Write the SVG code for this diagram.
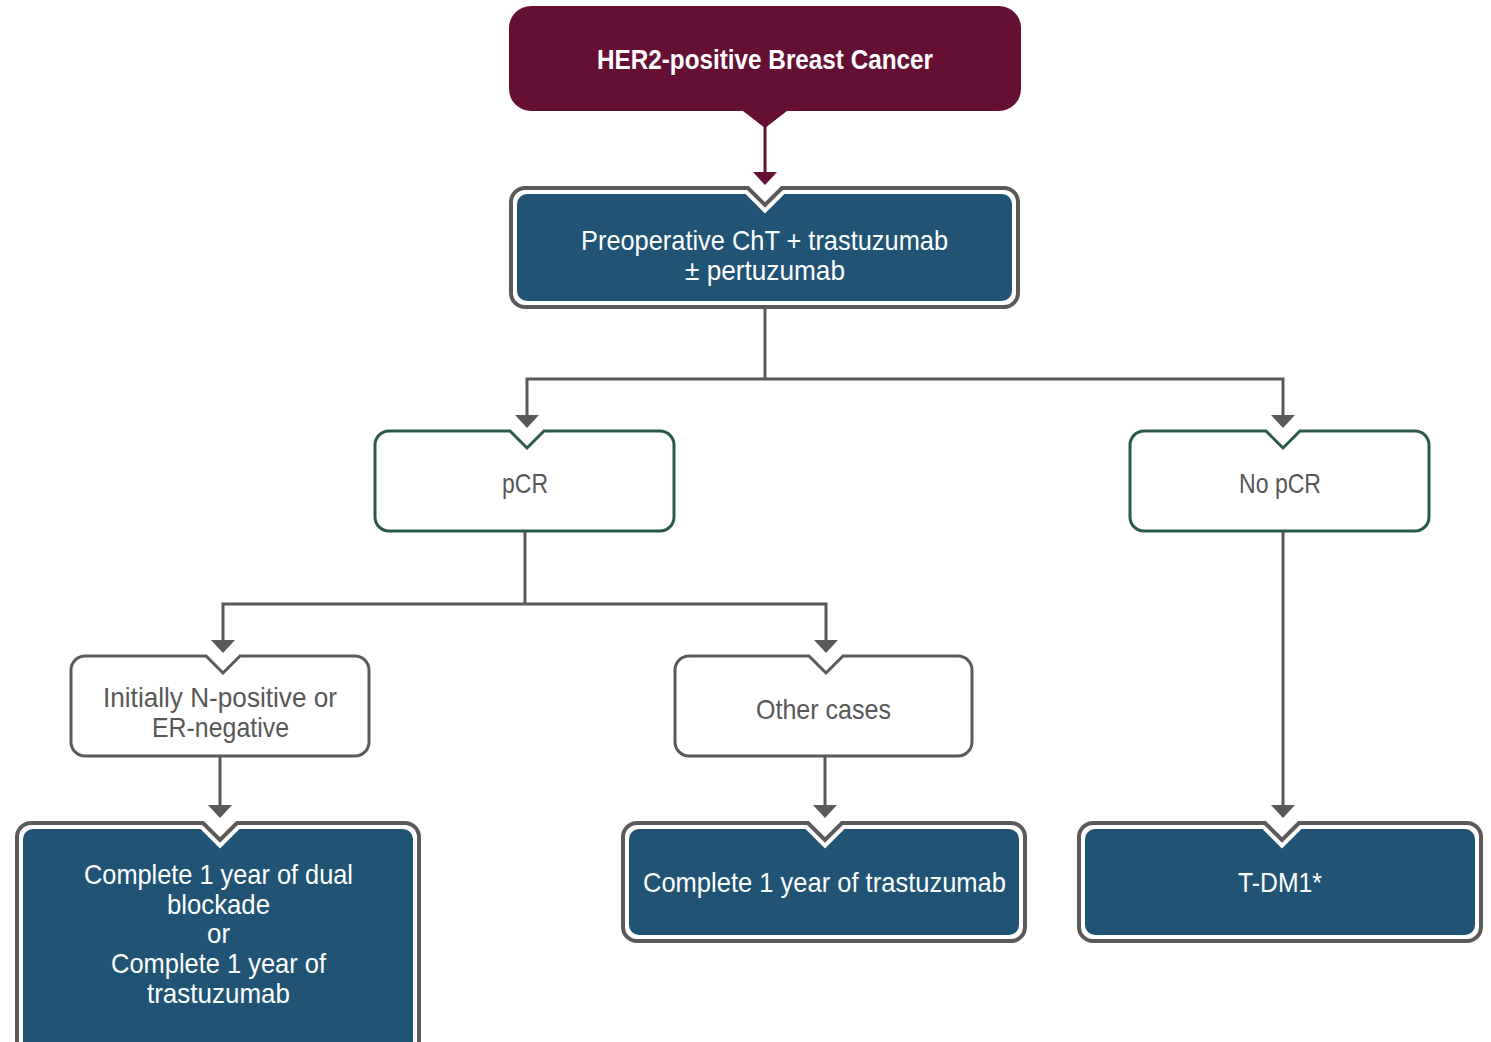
<svg xmlns="http://www.w3.org/2000/svg" width="1491" height="1042" viewBox="0 0 1491 1042">
<style>
.t{font-family:"Liberation Sans",Arial,sans-serif;font-size:28px;text-anchor:middle}
.w{fill:#ffffff}
.g{fill:#575757}
.b{font-weight:bold}
.outer{fill:#ffffff;stroke:#5a5a5a;stroke-width:4}
.inner{fill:#215374}
.wbox{fill:#ffffff;stroke-width:3}
.green{stroke:#2b5a44}
.gray{stroke:#5a5a5a}
.conn{fill:none;stroke:#595959;stroke-width:3}
.ah{fill:#595959}
</style>
<rect width="1491" height="1042" fill="#ffffff"/>
<g id="connectors">
<path d="M765,111 V174" fill="none" stroke="#650f35" stroke-width="3"/>
<path d="M743,111 L765,128 L787,111 Z" fill="#650f35"/>
<path d="M753,172 H777 L765,185 Z" fill="#650f35"/>
<path class="conn" d="M765,309 V379 H1283 V417 M765,379 H527 V417"/>
<path class="ah" d="M515,415 H539 L527,428 Z"/>
<path class="ah" d="M1271,415 H1295 L1283,428 Z"/>
<path class="conn" d="M525,532 V604 H826 V642 M525,604 H223 V642"/>
<path class="ah" d="M211,640 H235 L223,653 Z"/>
<path class="ah" d="M814,640 H838 L826,653 Z"/>
<path class="conn" d="M1283,532 V807"/>
<path class="ah" d="M1271,805 H1295 L1283,818 Z"/>
<path class="conn" d="M220,757 V807"/>
<path class="ah" d="M208,805 H232 L220,818 Z"/>
<path class="conn" d="M825,757 V807"/>
<path class="ah" d="M813,805 H837 L825,818 Z"/>
</g>
<g id="her2">
<rect x="509" y="6" width="512" height="105" rx="22" fill="#650f35"/>
<text class="t w b" x="765" y="69" textLength="336" lengthAdjust="spacingAndGlyphs">HER2-positive Breast Cancer</text>
</g>
<g id="preop">
<path class="outer" d="M525,188 H748 L765,205 L782,188 H1004 A14,14 0 0 1 1018,202 V293 A14,14 0 0 1 1004,307 H525 A14,14 0 0 1 511,293 V202 A14,14 0 0 1 525,188 Z"/>
<path class="inner" d="M527,194 H745.5 L765,213.5 L784.5,194 H1002 A10,10 0 0 1 1012,204 V291 A10,10 0 0 1 1002,301 H527 A10,10 0 0 1 517,291 V204 A10,10 0 0 1 527,194 Z"/>
<text class="t w" x="764.5" y="250" textLength="367" lengthAdjust="spacingAndGlyphs">Preoperative ChT + trastuzumab</text>
<text class="t w" x="765" y="280" textLength="160" lengthAdjust="spacingAndGlyphs">± pertuzumab</text>
</g>
<g id="pcr">
<path class="wbox green" d="M389,431 H510 L527,448 L544,431 H660 A14,14 0 0 1 674,445 V517 A14,14 0 0 1 660,531 H389 A14,14 0 0 1 375,517 V445 A14,14 0 0 1 389,431 Z"/>
<text class="t g" x="525" y="493" textLength="46" lengthAdjust="spacingAndGlyphs">pCR</text>
</g>
<g id="nopcr">
<path class="wbox green" d="M1144,431 H1266 L1283,448 L1300,431 H1415 A14,14 0 0 1 1429,445 V517 A14,14 0 0 1 1415,531 H1144 A14,14 0 0 1 1130,517 V445 A14,14 0 0 1 1144,431 Z"/>
<text class="t g" x="1280" y="493" textLength="82" lengthAdjust="spacingAndGlyphs">No pCR</text>
</g>
<g id="initially">
<path class="wbox gray" d="M85,656 H206 L223,673 L240,656 H355 A14,14 0 0 1 369,670 V742 A14,14 0 0 1 355,756 H85 A14,14 0 0 1 71,742 V670 A14,14 0 0 1 85,656 Z"/>
<text class="t g" x="220" y="707" textLength="234" lengthAdjust="spacingAndGlyphs">Initially N-positive or</text>
<text class="t g" x="220.5" y="737" textLength="137" lengthAdjust="spacingAndGlyphs">ER-negative</text>
</g>
<g id="other">
<path class="wbox gray" d="M689,656 H809 L826,673 L843,656 H958 A14,14 0 0 1 972,670 V742 A14,14 0 0 1 958,756 H689 A14,14 0 0 1 675,742 V670 A14,14 0 0 1 689,656 Z"/>
<text class="t g" x="823.5" y="719" textLength="135" lengthAdjust="spacingAndGlyphs">Other cases</text>
</g>
<g id="dual">
<path class="outer" d="M31,823 H203 L220,840 L237,823 H405 A14,14 0 0 1 419,837 V1060 H17 V837 A14,14 0 0 1 31,823 Z"/>
<path class="inner" d="M33,829 H200.5 L220,848.5 L239.5,829 H403 A10,10 0 0 1 413,839 V1060 H23 V839 A10,10 0 0 1 33,829 Z"/>
<text class="t w" x="218.5" y="884" textLength="269" lengthAdjust="spacingAndGlyphs">Complete 1 year of dual</text>
<text class="t w" x="218.5" y="914" textLength="103" lengthAdjust="spacingAndGlyphs">blockade</text>
<text class="t w" x="218.5" y="943" textLength="23" lengthAdjust="spacingAndGlyphs">or</text>
<text class="t w" x="218.5" y="973" textLength="215" lengthAdjust="spacingAndGlyphs">Complete 1 year of</text>
<text class="t w" x="218.5" y="1003" textLength="143" lengthAdjust="spacingAndGlyphs">trastuzumab</text>
</g>
<g id="trastuzumab">
<path class="outer" d="M637,823 H808 L825,840 L842,823 H1011 A14,14 0 0 1 1025,837 V927 A14,14 0 0 1 1011,941 H637 A14,14 0 0 1 623,927 V837 A14,14 0 0 1 637,823 Z"/>
<path class="inner" d="M639,829 H805.5 L825,848.5 L844.5,829 H1009 A10,10 0 0 1 1019,839 V925 A10,10 0 0 1 1009,935 H639 A10,10 0 0 1 629,925 V839 A10,10 0 0 1 639,829 Z"/>
<text class="t w" x="824.5" y="892" textLength="363" lengthAdjust="spacingAndGlyphs">Complete 1 year of trastuzumab</text>
</g>
<g id="tdm1">
<path class="outer" d="M1093,823 H1265 L1282,840 L1299,823 H1467 A14,14 0 0 1 1481,837 V927 A14,14 0 0 1 1467,941 H1093 A14,14 0 0 1 1079,927 V837 A14,14 0 0 1 1093,823 Z"/>
<path class="inner" d="M1095,829 H1262.5 L1282,848.5 L1301.5,829 H1465 A10,10 0 0 1 1475,839 V925 A10,10 0 0 1 1465,935 H1095 A10,10 0 0 1 1085,925 V839 A10,10 0 0 1 1095,829 Z"/>
<text class="t w" x="1280" y="892" textLength="84" lengthAdjust="spacingAndGlyphs">T-DM1*</text>
</g>
</svg>
